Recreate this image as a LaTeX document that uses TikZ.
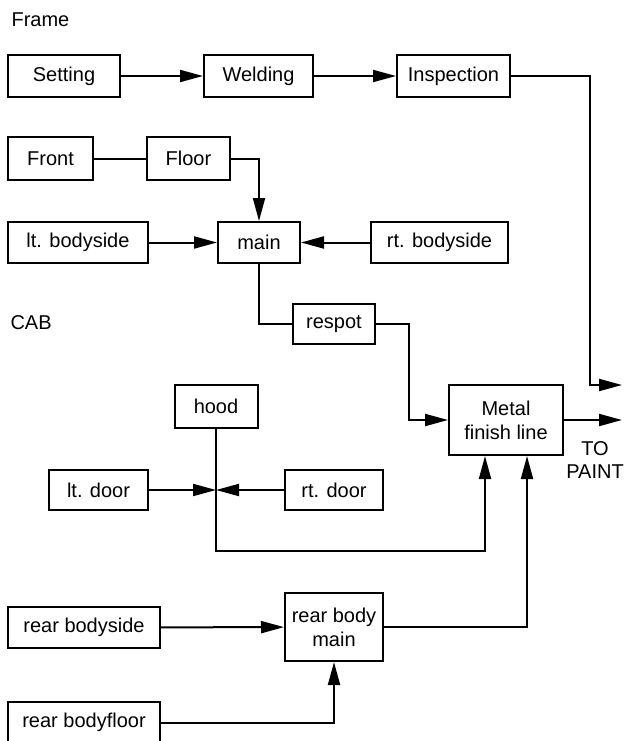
\documentclass[tikz,border=0pt]{standalone}
\usepackage{fontspec}
\setmainfont{Liberation Sans}
\usetikzlibrary{arrows.meta,calc}

\begin{document}
\begin{tikzpicture}[x=1pt, y=-1pt,
		stationbox/.style={draw, line width=2pt, inner sep=0pt, align=center, font=\fontsize{20}{24}\selectfont},
		flow/.style={line width=2pt, -{Triangle[length=23pt, width=12pt]}},
		link/.style={line width=2pt},
		caption/.style={anchor=west, font=\fontsize{20}{24}\selectfont}]
		%%%%% START %%%%%
		
		\useasboundingbox (0, 0) rectangle (626, 741);
		
		\node[caption] (framelabel) at (8, 20) {Frame};
		\node[caption] (cablabel) at (7, 323) {CAB};
		
		\node[stationbox, minimum width=112pt, minimum height=42pt] (setting) at (64, 76) {Setting};
		\node[stationbox, minimum width=109pt, minimum height=42pt] (welding) at (258.5, 76) {Welding};
		\node[stationbox, minimum width=113pt, minimum height=42pt] (inspection) at (453.5, 76) {Inspection};
		
		\node[stationbox, minimum width=85pt, minimum height=43pt] (front) at (50.5, 158.5) {Front};
		\node[stationbox, minimum width=83pt, minimum height=43pt] (floor) at (188.5, 158.5) {Floor};
		
		\node[stationbox, minimum width=140pt, minimum height=41pt] (ltbodyside) at (78, 242.5) {lt. bodyside};
		\node[stationbox, minimum width=82pt, minimum height=41pt] (main) at (259, 242.5) {main};
		\node[stationbox, minimum width=137pt, minimum height=41pt] (rtbodyside) at (439.5, 242.5) {rt. bodyside};
		
		\node[stationbox, minimum width=82pt, minimum height=40pt] (respot) at (334, 324) {respot};
		\node[stationbox, minimum width=114pt, minimum height=70pt] (metal) at (506, 420) {Metal\\finish line};
		\node[align=center, font=\fontsize{20}{23}\selectfont] (topaint) at (595, 460) {TO\\PAINT};
		
		\node[stationbox, minimum width=83pt, minimum height=43pt] (hood) at (216, 406.5) {hood};
		\node[stationbox, minimum width=99pt, minimum height=40pt] (ltdoor) at (98.5, 490) {lt. door};
		\node[stationbox, minimum width=98pt, minimum height=40pt] (rtdoor) at (334, 490) {rt. door};
		
		\node[stationbox, minimum width=152pt, minimum height=41pt] (rearbodyside) at (84, 627.5) {rear bodyside};
		\node[stationbox, minimum width=98pt, minimum height=68pt] (rearbodymain) at (334, 627) {rear body\\main};
		\node[stationbox, minimum width=152pt, minimum height=42pt] (rearbodyfloor) at (84, 722.5) {rear bodyfloor};
		
		\coordinate (frameout) at (622, 385);
		\coordinate (paintout) at (622, 420);
		\coordinate (doorjoin) at (hood.south |- ltdoor.east);
		
		% frame line
		\draw[flow] (setting) -- (welding);
		\draw[flow] (welding) -- (inspection);
		\draw[flow] (inspection.east) -- ++(79, 0) |- (frameout);
		
		% cab line
		\draw[link] (front) -- (floor);
		\draw[flow] (floor.east) -| (main.north);
		\draw[flow] (ltbodyside) -- (main);
		\draw[flow] (rtbodyside) -- (main);
		\draw[link] (main.south) |- (respot.west);
		\draw[flow] (respot.east) -- ++(33, 0) |- (metal.west);
		\draw[flow] (metal.east) -- (paintout);
		
		\draw[flow] (ltdoor.east) -- (doorjoin);
		\draw[flow] (rtdoor.west) -- (doorjoin);
		\draw[flow] (hood.south) -- (doorjoin) -- ++(0, 61) -| ([xshift=-21pt]metal.south);
		
		\draw[flow] (rearbodyside) -- (rearbodymain);
		\draw[flow] (rearbodyfloor.east) -| (rearbodymain.south);
		\draw[flow] (rearbodymain.east) -| ([xshift=21pt]metal.south);
		
		%%%%% END %%%%%
	\end{tikzpicture}
\end{document}
